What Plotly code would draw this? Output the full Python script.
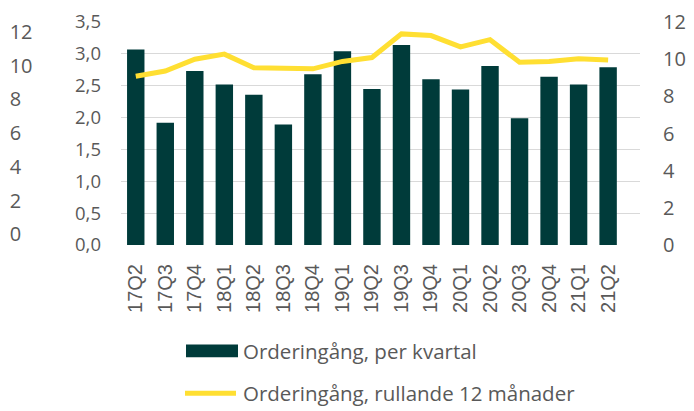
import plotly.graph_objects as go

quarters = ["17Q2", "17Q3", "17Q4", "18Q1", "18Q2", "18Q3", "18Q4", "19Q1", "19Q2",
            "19Q3", "19Q4", "20Q1", "20Q2", "20Q3", "20Q4", "21Q1", "21Q2"]
per_quarter = [3.07, 1.92, 2.73, 2.52, 2.36, 1.89, 2.68, 3.04, 2.45,
               3.14, 2.60, 2.44, 2.81, 1.99, 2.64, 2.52, 2.79]
rolling_12m = [9.08, 9.36, 10.0, 10.27, 9.54, 9.52, 9.48, 9.88, 10.09,
               11.36, 11.27, 10.66, 11.05, 9.83, 9.88, 10.02, 9.95]
legend_names = ["Orderingång, per kvartal", "Orderingång, rullande 12 månader"]

BAR = "#003B3A"
LINE = "#FFDF32"
GRID = "#D9D9D9"
TXT = "#595959"

W, H = 694, 411
ML, MR, MT, MB = 8, 54, 15, 166
PW = W - ML - MR
PH = H - MT - MB
x0 = (121 - ML) / PW

def px(x):
    return (x - ML) / PW

def py(y):
    return (H - MB - y) / PH

fig = go.Figure()
fig.add_trace(go.Bar(x=quarters, y=per_quarter, name=legend_names[0],
                     marker=dict(color=BAR, line=dict(width=0)), xaxis="x", yaxis="y"))
fig.add_trace(go.Scatter(x=quarters, y=rolling_12m, name=legend_names[1], mode="lines",
                         line=dict(color=LINE, width=5), xaxis="x", yaxis="y2"))
# invisible helper trace so that the extra left-most axis is drawn
fig.add_trace(go.Scatter(x=[0], y=[0], xaxis="x2", yaxis="y3", mode="markers",
                         marker=dict(opacity=0), hoverinfo="skip", showlegend=False))

fig.update_layout(
    width=W, height=H,
    margin=dict(l=ML, r=MR, t=MT, b=MB, pad=0),
    paper_bgcolor="white", plot_bgcolor="white",
    separators=", ",
    showlegend=False,
    bargap=0.41,
    xaxis=dict(domain=[x0, 1], type="category", range=[-0.5, 17.08], anchor="y",
               tickangle=-90, tickfont=dict(family="Liberation Sans", size=20, color=TXT),
               showline=False, showgrid=False, ticks="", ticklabelstandoff=14),
    yaxis=dict(range=[0, 3.5], dtick=0.5, tickformat=".1f", showgrid=True, anchor="x",
               gridcolor=GRID, gridwidth=1.3, zeroline=False,
               tickfont=dict(family="Open Sans", size=18.5, color=TXT),
               ticks="", ticklabelstandoff=19),
    yaxis2=dict(range=[0, 12], dtick=2, overlaying="y", side="right", showgrid=False,
                zeroline=False, tickfont=dict(family="Open Sans", size=20, color=TXT),
                ticks="", ticklabelstandoff=22),
    xaxis2=dict(domain=[0, 0.001], anchor="y3", visible=False, range=[0, 1]),
    yaxis3=dict(range=[0, 12], dtick=2, anchor="x2", side="right",
                domain=[py(234), py(25.3)], showgrid=False, zeroline=False,
                tickfont=dict(family="Open Sans", size=20, color=TXT), ticks="",
                ticklabelstandoff=0, showline=False),
)

# manual legend
fig.add_shape(type="rect", xref="paper", yref="paper",
              x0=px(186), x1=px(238), y0=py(360.7), y1=py(347.7),
              fillcolor=BAR, line=dict(width=0))
fig.add_shape(type="line", xref="paper", yref="paper",
              x0=px(185), x1=px(236), y0=py(398), y1=py(398),
              line=dict(color=LINE, width=5))
for name, yy in zip(legend_names, [354.5, 398]):
    fig.add_annotation(text=name, xref="paper", yref="paper", x=px(241), y=py(yy),
                       xanchor="left", yanchor="middle", showarrow=False,
                       font=dict(family="Open Sans", size=20.5, color=TXT))

fig.write_html("out.html")
